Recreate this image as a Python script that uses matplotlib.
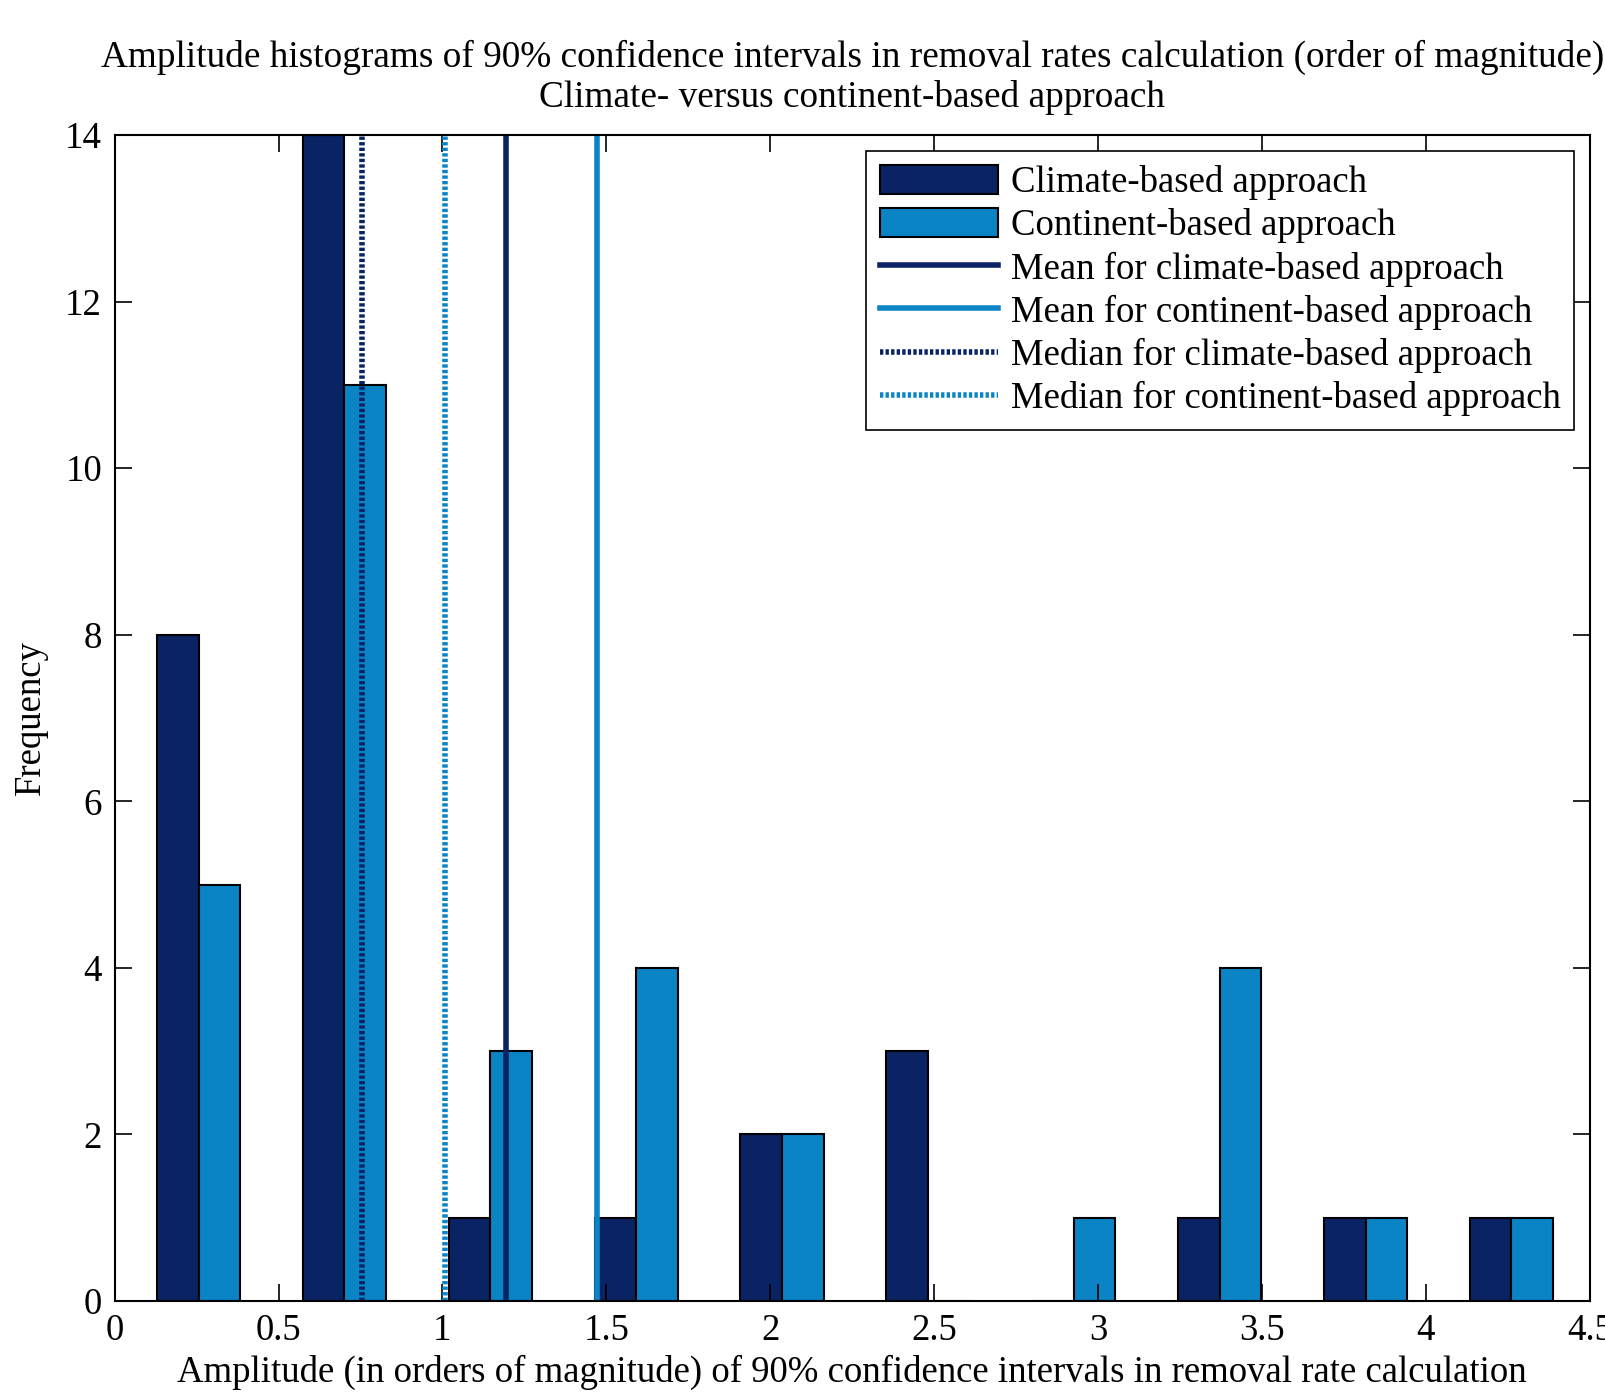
import numpy as np
import matplotlib.pyplot as plt
from matplotlib.patches import Patch
from matplotlib.lines import Line2D

# bin centres of the histogram (orders of magnitude)
bin_centers = [0.256, 0.701, 1.146, 1.591, 2.036, 2.481, 2.926, 3.371, 3.816, 4.261]
climate_counts = [8, 14, 1, 1, 2, 3, 0, 1, 1, 1]
continent_counts = [5, 11, 3, 4, 2, 0, 1, 4, 1, 1]

mean_climate = 1.193
mean_continent = 1.471
median_climate = 0.756
median_continent = 1.009

dark = '#0A2364'
light = '#0B84C6'

plt.rcParams['font.family'] = ['Liberation Serif']
plt.rcParams['font.size'] = 26.5

fig = plt.figure(figsize=(16.05, 13.94), dpi=100)
ax = fig.add_axes([0.0714, 0.0667, 0.9191, 0.8365])

w = 0.127
x = np.array(bin_centers)
ax.bar(x - w / 2, climate_counts, width=w, color=dark, edgecolor='black', linewidth=1.5)
ax.bar(x + w / 2, continent_counts, width=w, color=light, edgecolor='black', linewidth=1.5)

dots = (0, (0.6, 0.4))
ax.axvline(mean_climate, color=dark, lw=4)
ax.axvline(mean_continent, color=light, lw=4)
ax.axvline(median_climate, color=dark, lw=4, ls=dots)
ax.axvline(median_continent, color=light, lw=4, ls=dots)

ax.set_xlim(0, 4.5)
ax.set_ylim(0, 14)
ax.set_xticks(np.arange(0, 4.51, 0.5))
ax.set_xticklabels(['0', '0.5', '1', '1.5', '2', '2.5', '3', '3.5', '4', '4.5'])
ax.set_yticks(np.arange(0, 15, 2))
ax.tick_params(direction='in', top=True, right=True, length=12, width=1.2, pad=9)
for s in ax.spines.values():
    s.set_linewidth(1.5)

ax.set_xlabel('Amplitude (in orders of magnitude) of 90% confidence intervals in removal rate calculation', labelpad=5)
ax.set_ylabel('Frequency', labelpad=12)
ax.set_title('Amplitude histograms of 90% confidence intervals in removal rates calculation (order of magnitude)\n'
             'Climate- versus continent-based approach', fontsize=26.8, pad=20, linespacing=1.2)

handles = [
    Patch(facecolor=dark, edgecolor='black', linewidth=1.5),
    Patch(facecolor=light, edgecolor='black', linewidth=1.5),
    Line2D([], [], color=dark, lw=4),
    Line2D([], [], color=light, lw=4),
    Line2D([], [], color=dark, lw=4, ls=dots),
    Line2D([], [], color=light, lw=4, ls=dots),
]
labels = ['Climate-based approach', 'Continent-based approach',
          'Mean for climate-based approach', 'Mean for continent-based approach',
          'Median for climate-based approach', 'Median for continent-based approach']
leg = ax.legend(handles, labels, loc='upper right', bbox_to_anchor=(0.9896, 0.986),
                fancybox=False, framealpha=1, edgecolor='black',
                handlelength=3.2, handleheight=0.8, handletextpad=0.35,
                labelspacing=0.22, borderpad=0.38, borderaxespad=0)
leg.get_frame().set_linewidth(1.2)

fig.savefig('out.png', dpi=100)
